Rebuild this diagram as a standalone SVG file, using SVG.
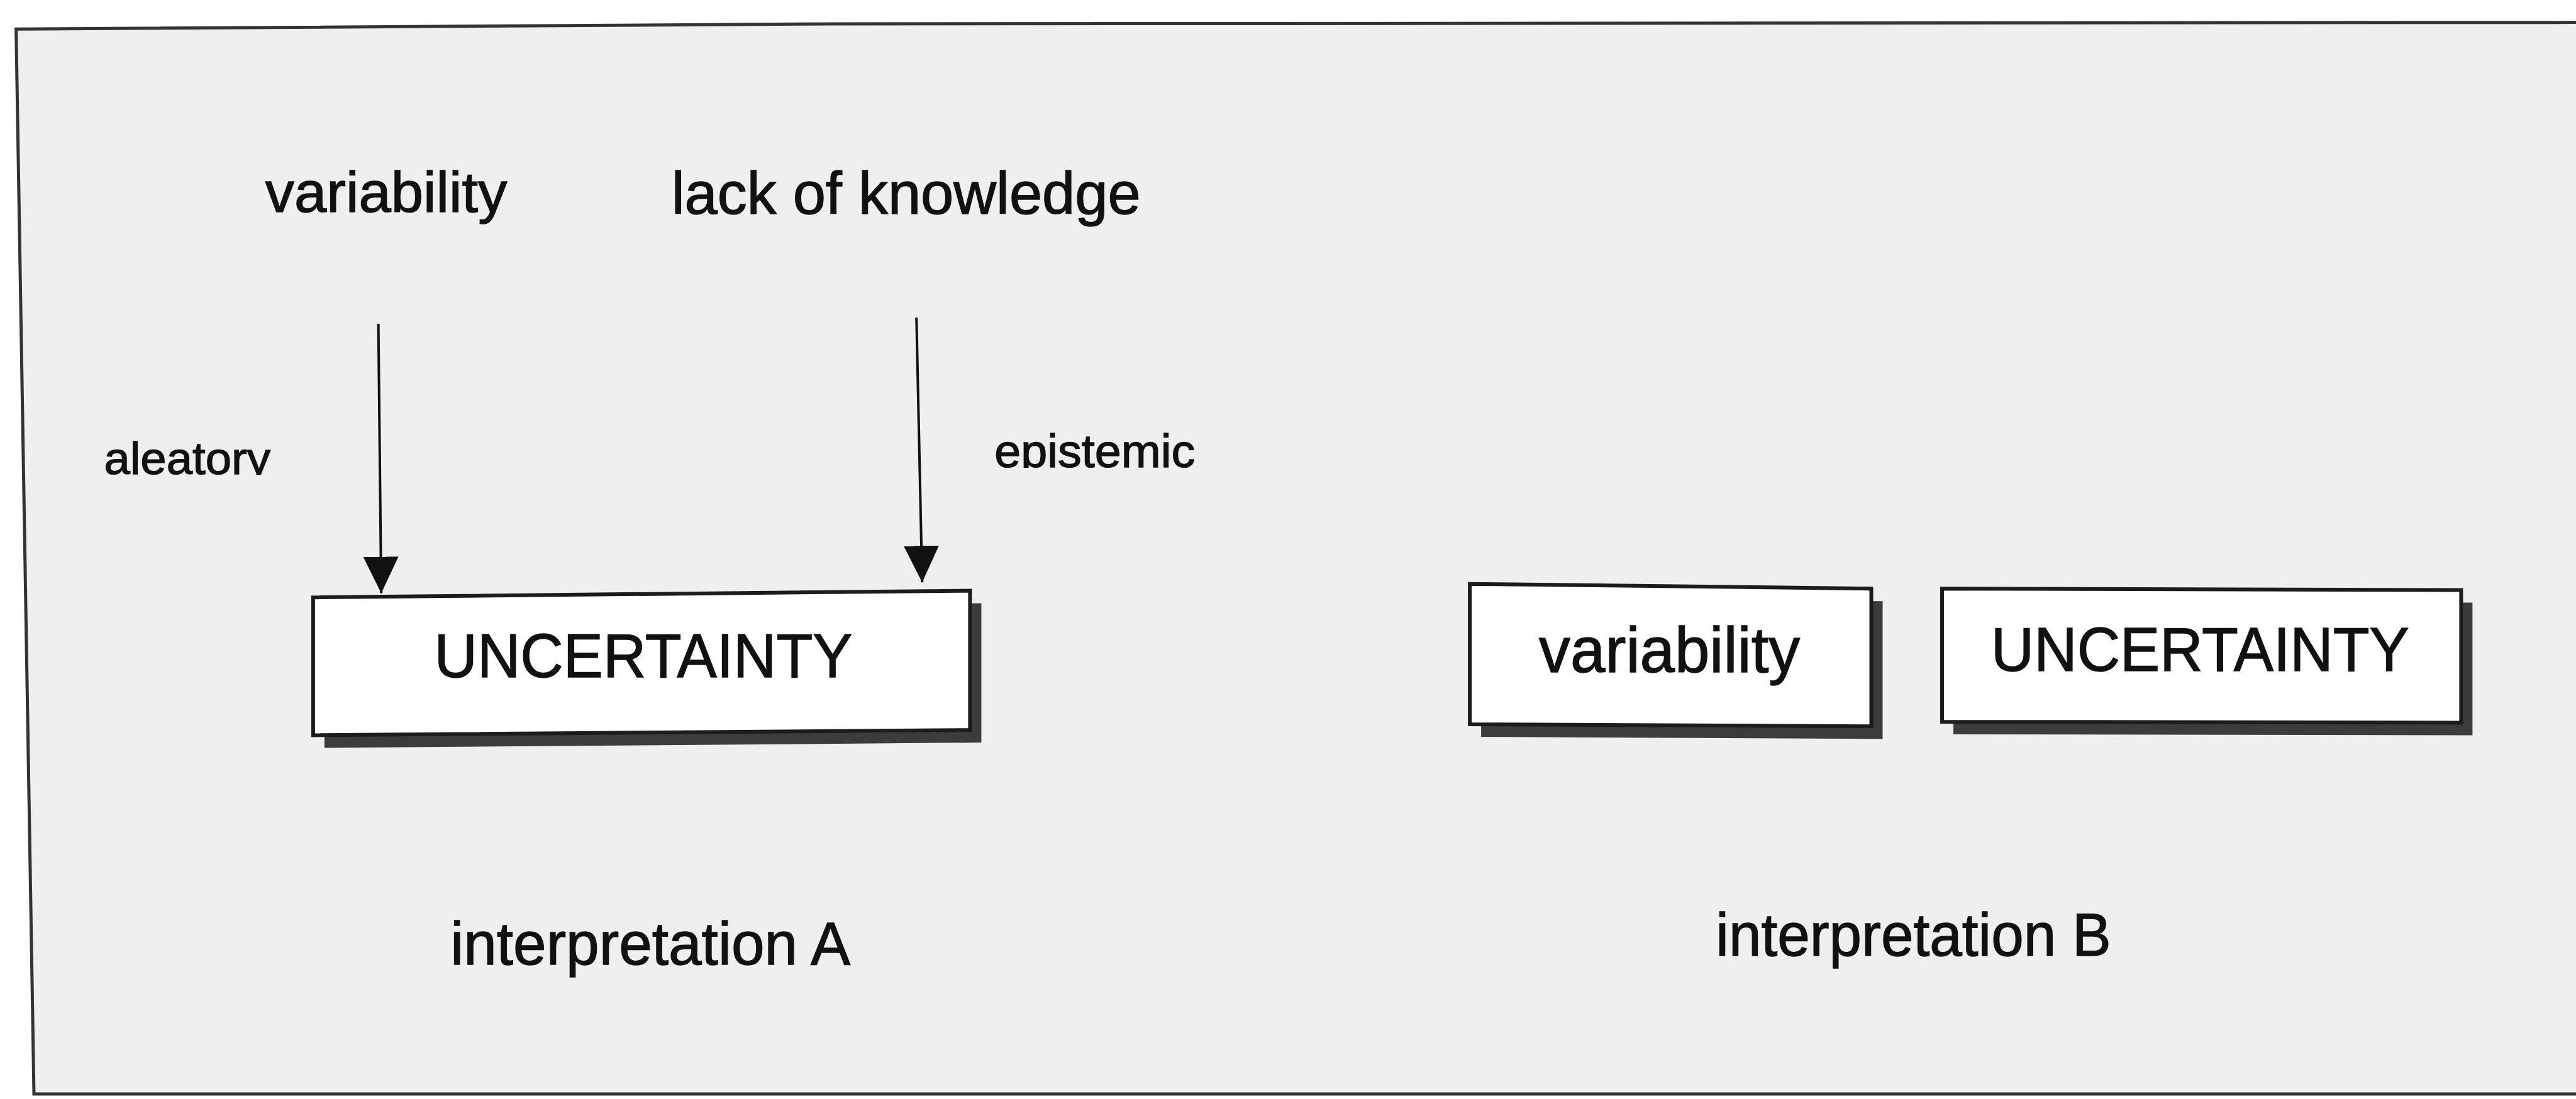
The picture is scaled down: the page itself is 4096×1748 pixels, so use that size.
<svg xmlns="http://www.w3.org/2000/svg" width="4096" height="1748" viewBox="0 0 4096 1748">
  <defs>
    <style>
      text { font-family: "Liberation Sans", Arial, Helvetica, sans-serif; fill: #111; stroke: #111; stroke-width: 1.4; }
      .box { fill: #ffffff; stroke: #1c1c1c; stroke-width: 6; stroke-linejoin: miter; }
      .shadow { fill: #3c3c3c; }
      .conn { stroke: #111; stroke-width: 4; fill: none; marker-end: url(#arrow); }
      .frame { fill: #efefef; stroke: #333; stroke-width: 5; }
    </style>
    <marker id="arrow" markerUnits="userSpaceOnUse" viewBox="0 0 58 56" refX="58" refY="28" markerWidth="58" markerHeight="56" orient="auto">
      <path d="M0,0 L58,28 L0,56 Z" fill="#111"/>
    </marker>
    <!-- the two side labels are cut just below their baseline -->
    <clipPath id="clip-aleatory" clipPathUnits="userSpaceOnUse">
      <rect x="100" y="600" width="400" height="155.5"/>
    </clipPath>
    <clipPath id="clip-epistemic" clipPathUnits="userSpaceOnUse">
      <rect x="1500" y="600" width="450" height="143.9"/>
    </clipPath>
  </defs>

  <!-- page and outer frame -->
  <rect x="0" y="0" width="4096" height="1748" fill="#ffffff"/>
  <path id="frame" class="frame" d="M4110,35.6 L1323,38 L25.6,46.3 L54,1740 L4110,1740 Z"/>

  <!-- sources -->
  <g id="node-variability-source">
    <text x="421.8" y="337.4" font-size="91" textLength="384.6" lengthAdjust="spacingAndGlyphs">variability</text>
  </g>
  <g id="node-lack-of-knowledge">
    <text x="1067.7" y="339.5" font-size="95" textLength="746" lengthAdjust="spacingAndGlyphs">lack of knowledge</text>
  </g>

  <!-- connectors -->
  <g id="connectors">
    <line class="conn" x1="601.6" y1="515" x2="606.2" y2="943.6"/>
    <line class="conn" x1="1457.2" y1="505.3" x2="1466.3" y2="926.2"/>
    <text x="165.4" y="754.2" font-size="73" textLength="264.6" lengthAdjust="spacingAndGlyphs" clip-path="url(#clip-aleatory)">aleatory</text>
    <text x="1581.2" y="742.6" font-size="75" textLength="319" lengthAdjust="spacingAndGlyphs" clip-path="url(#clip-epistemic)">epistemic</text>
  </g>

  <!-- interpretation A -->
  <g id="node-uncertainty-a">
    <polygon class="shadow" points="515.9,970.2 1560.4,959.5 1560.4,1181.1 515.9,1189.4"/>
    <polygon class="box" points="497.9,950.2 1542.4,939.5 1542.4,1161.1 497.9,1169.4"/>
    <text x="690.5" y="1076.8" font-size="99" textLength="665" lengthAdjust="spacingAndGlyphs">UNCERTAINTY</text>
  </g>
  <g id="caption-a">
    <text x="716.2" y="1534.1" font-size="97" textLength="636" lengthAdjust="spacingAndGlyphs">interpretation A</text>
  </g>

  <!-- interpretation B -->
  <g id="node-variability-b">
    <polygon class="shadow" points="2355.1,948.7 2993.5,956.2 2993.5,1175.3 2355.1,1172.0"/>
    <polygon class="box" points="2337.1,928.7 2975.5,936.2 2975.5,1155.3 2337.1,1152.0"/>
    <text x="2447.1" y="1069.3" font-size="102" textLength="415" lengthAdjust="spacingAndGlyphs">variability</text>
  </g>
  <g id="node-uncertainty-b">
    <polygon class="shadow" points="3106.0,956.2 3931.4,958.6 3931.4,1169.5 3106.0,1167.9"/>
    <polygon class="box" points="3088.0,936.2 3913.4,938.6 3913.4,1149.5 3088.0,1147.9"/>
    <text x="3165.8" y="1066.8" font-size="99" textLength="665" lengthAdjust="spacingAndGlyphs">UNCERTAINTY</text>
  </g>
  <g id="caption-b">
    <text x="2728.3" y="1520" font-size="97" textLength="628.5" lengthAdjust="spacingAndGlyphs">interpretation B</text>
  </g>
</svg>
